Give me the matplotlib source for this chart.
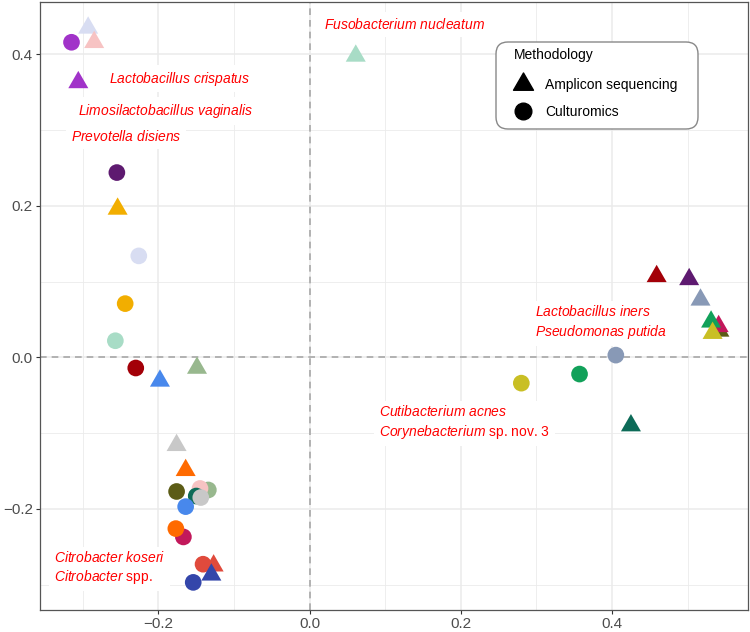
import matplotlib
matplotlib.use('Agg')
import matplotlib.pyplot as plt
from matplotlib.path import Path
from matplotlib.lines import Line2D
from matplotlib.patches import FancyBboxPatch
from matplotlib.transforms import IdentityTransform
from matplotlib.ticker import MultipleLocator
import numpy as np

plt.rcParams['font.family'] = ['Liberation Sans', 'DejaVu Sans']
plt.rcParams['mathtext.fontset'] = 'custom'
plt.rcParams['mathtext.it'] = 'Liberation Sans:italic'
plt.rcParams['mathtext.rm'] = 'Liberation Sans'

# colour for each taxon (same colour for both methods)
palette = {'t01': '#A133C9', 't02': '#5E1A70', 't03': '#D8DDF2', 't04': '#F2AE00',
           't05': '#A8DCC6', 't06': '#A30008', 't07': '#5C5C16', 't08': '#98B88E',
           't09': '#F7C3C3', 't10': '#0D6B58', 't11': '#C8C8C8', 't12': '#4888EC',
           't13': '#C2185B', 't14': '#FF6A00', 't15': '#E04A3C', 't16': '#3446AA',
           't17': '#8899B6', 't18': '#12A15A', 't19': '#C9BF24'}

# Culturomics (circles)
cult_taxon = ['t01', 't02', 't03', 't04', 't05', 't06', 't07', 't08', 't09', 't10',
              't11', 't12', 't13', 't14', 't15', 't16', 't17', 't18', 't19']
cult_x = [-0.315, -0.255, -0.226, -0.244, -0.257, -0.230, -0.176, -0.134, -0.145, -0.150,
          -0.144, -0.164, -0.167, -0.177, -0.141, -0.154, 0.405, 0.357, 0.280]
cult_y = [0.416, 0.244, 0.134, 0.071, 0.022, -0.014, -0.177, -0.175, -0.173, -0.183,
          -0.185, -0.197, -0.237, -0.226, -0.273, -0.297, 0.003, -0.022, -0.034]

# Amplicon sequencing (triangles)
amp_taxon = ['t03', 't09', 't01', 't04', 't12', 't08', 't11', 't14', 't15', 't16',
             't06', 't02', 't17', 't07', 't13', 't18', 't19', 't10', 't05']
amp_x = [-0.293, -0.285, -0.306, -0.254, -0.198, -0.149, -0.176, -0.164, -0.127, -0.130,
         0.459, 0.502, 0.517, 0.542, 0.541, 0.531, 0.533, 0.425, 0.061]
amp_y = [0.435, 0.416, 0.363, 0.196, -0.031, -0.014, -0.116, -0.149, -0.275, -0.287,
         0.107, 0.103, 0.076, 0.035, 0.041, 0.047, 0.032, -0.090, 0.398]

# red species labels (genus/species in italics)
lab_text = ['$\\mathit{Fusobacterium\\ nucleatum}$',
            '$\\mathit{Lactobacillus\\ crispatus}$',
            '$\\mathit{Limosilactobacillus\\ vaginalis}$',
            '$\\mathit{Prevotella\\ disiens}$',
            '$\\mathit{Lactobacillus\\ iners}$\n$\\mathit{Pseudomonas\\ putida}$',
            '$\\mathit{Cutibacterium\\ acnes}$\n$\\mathit{Corynebacterium}$ sp. nov. 3',
            '$\\mathit{Citrobacter\\ koseri}$\n$\\mathit{Citrobacter}$ spp.']
lab_x = [0.019, -0.265, -0.306, -0.316, 0.298, 0.092, -0.338]
lab_y = [0.439, 0.368, 0.325, 0.291, 0.046, -0.086, -0.278]

# equilateral triangle, centred on its centroid
tri = Path([(0, 1), (-0.866, -0.5), (0.866, -0.5), (0, 1)],
           [Path.MOVETO, Path.LINETO, Path.LINETO, Path.CLOSEPOLY])

fig = plt.figure(figsize=(7.5, 6.32), dpi=100)
ax = fig.add_axes([0.053, 0.035, 0.944, 0.962])

ax.set_xlim(-0.357, 0.5795)
ax.set_ylim(-0.3333, 0.4693)
ax.xaxis.set_major_locator(MultipleLocator(0.2))
ax.yaxis.set_major_locator(MultipleLocator(0.2))
ax.xaxis.set_minor_locator(MultipleLocator(0.1))
ax.yaxis.set_minor_locator(MultipleLocator(0.1))
ax.grid(which='major', color='#EBEBEB', lw=1.1, zorder=0)
ax.grid(which='minor', color='#EBEBEB', lw=0.6, zorder=0)
ax.set_axisbelow(True)
ax.tick_params(which='minor', length=0)
ax.tick_params(which='major', length=3, width=0.8, color='#333333',
               labelsize=11, labelcolor='#4D4D4D', pad=2)
for s in ax.spines.values():
    s.set_color('#555555')
    s.set_linewidth(0.9)

ax.axhline(0, color='#A8A8A8', lw=1.2, ls=(0, (4, 3)), zorder=1)
ax.axvline(0, color='#A8A8A8', lw=1.2, ls=(0, (4, 3)), zorder=1)

ax.scatter(cult_x, cult_y, s=144, marker='o', c=[palette[t] for t in cult_taxon],
           linewidths=0, zorder=3)
ax.scatter(amp_x, amp_y, s=277, marker=tri, c=[palette[t] for t in amp_taxon],
           linewidths=0, zorder=3)

for txt, x, y in zip(lab_text, lab_x, lab_y):
    ax.text(x, y, txt, color='#FF0000', fontsize=10, ha='left', va='center',
            linespacing=1.3, zorder=4,
            bbox=dict(boxstyle='square,pad=0.35', fc='white', ec='none'))

# legend: rounded box drawn in pixels, title as text, frameless legend on top
box = FancyBboxPatch((496, 632 - 129), 202, 87, boxstyle='round,pad=0,rounding_size=12',
                     transform=IdentityTransform(), fc='white', ec='#888888', lw=1.0,
                     zorder=5, clip_on=False)
ax.add_artist(box)
ax.text(514 / 750, 1 - 55 / 632, 'Methodology', transform=fig.transFigure,
        fontsize=10, ha='left', va='center', zorder=6)

handles = [Line2D([], [], ls='', marker=tri, color='black', markersize=16.6),
           Line2D([], [], ls='', marker='o', color='black', markersize=12)]
leg = ax.legend(handles, ['Amplicon sequencing', 'Culturomics'],
                loc='upper left', bbox_to_anchor=(513 / 750, 1 - 78 / 632),
                bbox_transform=fig.transFigure, borderaxespad=0, borderpad=0,
                fontsize=10, frameon=False,
                labelspacing=0.9, handletextpad=0.9, handlelength=1.43)
leg.set_zorder(6)

fig.savefig('out.png', dpi=100)
